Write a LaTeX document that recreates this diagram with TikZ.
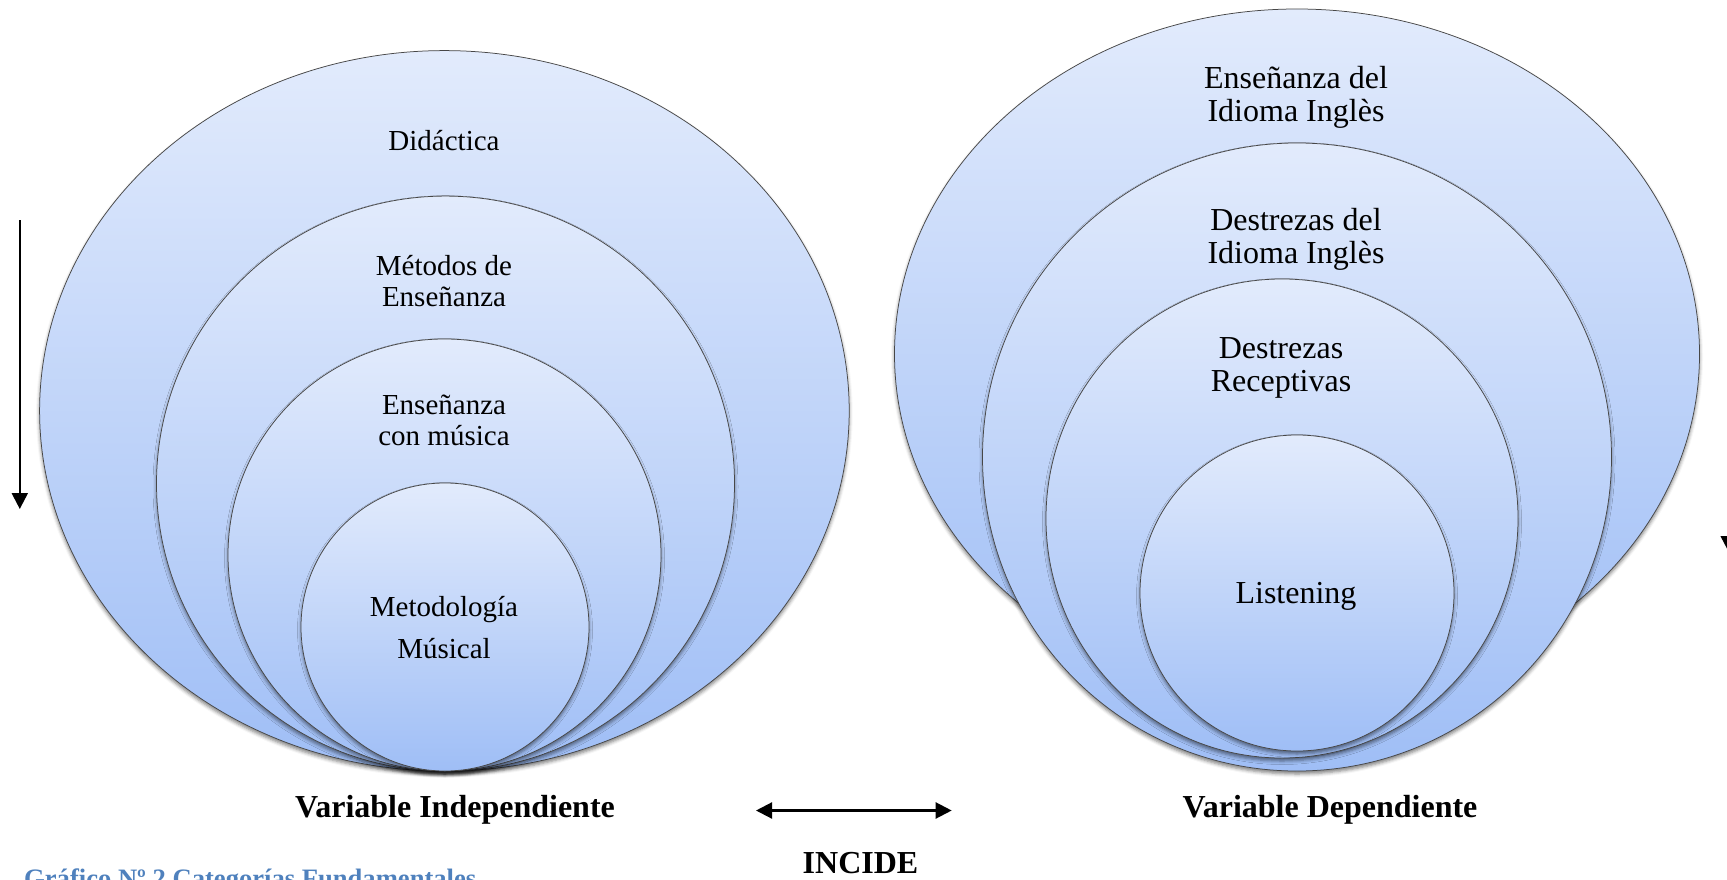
\documentclass[tikz,border=0pt]{standalone}
\usepackage{fontspec}
\setmainfont{Liberation Serif}
\usetikzlibrary{shapes.geometric,shadows.blur,arrows.meta}
\definecolor{topblue}{HTML}{E2EBFC}
\definecolor{botblue}{HTML}{9FBEF6}
\definecolor{capblue}{HTML}{4F81BD}
\begin{document}
\begin{tikzpicture}[x=1pt,y=-1pt,
  bubble/.style={ellipse, draw=black!72, line width=0.75pt, top color=topblue, bottom color=botblue, inner sep=0pt,
    blur shadow={shadow xshift=0pt, shadow yshift=-3pt, shadow blur radius=3.5pt, shadow opacity=50}},
  lbl/.style={align=center, inner sep=0pt, font=\fontsize{29}{31}\selectfont},
  rlbl/.style={align=center, inner sep=0pt, font=\fontsize{32}{33}\selectfont},
  varlbl/.style={inner sep=0pt, font=\bfseries\fontsize{32}{34}\selectfont},
  arr/.style={line width=2.2pt, -{Triangle[length=16pt,width=16pt]}},
  darr/.style={line width=2.2pt, {Triangle[length=16pt,width=16pt]}-{Triangle[length=16pt,width=16pt]}}]
\useasboundingbox (0,0) rectangle (1727,880);
\clip (0,0) rectangle (1727,880);
% left set
\node[bubble, minimum width=809.6pt, minimum height=720.4pt] (L1) at (444.4,410.8) {};
\node[bubble, minimum width=578pt, minimum height=575pt] (L2) at (445.5,483.6) {};
\node[bubble, minimum width=433pt, minimum height=432pt] (L3) at (444.5,555) {};
\node[bubble, minimum width=288pt, minimum height=288pt] (L4) at (445,627) {};
\node[lbl] (tL1) at (444,141) {Didáctica};
\node[lbl] (tL2) at (444,281) {Métodos de\\Enseñanza};
\node[lbl] (tL3) at (444,420) {Enseñanza\\con música};
\node[lbl, font=\fontsize{29}{42}\selectfont] (tL4) at (444,628) {Metodología\\Músical};
% right set
\node[bubble, minimum width=805pt, minimum height=690pt] (R1) at (1297,354) {};
\node[bubble, minimum width=629pt, minimum height=628pt] (R2) at (1297,457) {};
\node[bubble, minimum width=472pt, minimum height=479pt] (R3) at (1282,518.5) {};
\node[bubble, minimum width=314pt, minimum height=316pt] (R4) at (1297,593) {};
\node[rlbl] (tR1) at (1296,97) {Enseñanza del\\Idioma Inglès};
\node[rlbl] (tR2) at (1296,239) {Destrezas del\\Idioma Inglès};
\node[rlbl] (tR3) at (1281,368) {Destrezas\\Receptivas};
\node[rlbl] (tR4) at (1296,596) {Listening};
% labels
\node[varlbl] (vi) at (455,810) {Variable Independiente};
\node[varlbl] (vd) at (1330,810) {Variable Dependiente};
\node[varlbl] (inc) at (860.5,863) {INCIDE};
\node[anchor=base west, inner sep=0pt, text=capblue, font=\bfseries\fontsize{26.6}{28}\selectfont] (cap) at (24,887) {Gráfico Nº 2 Categorías Fundamentales};
% arrows
\coordinate (la1) at (19.8,220);
\coordinate (la2) at (19.8,509);
\draw[arr] (la1) -- (la2);
\coordinate (da1) at (756,810.5);
\coordinate (da2) at (951.7,810.5);
\draw[darr] (da1) -- (da2);
\coordinate (ra1) at (1728.7,290);
\coordinate (ra2) at (1728.7,552);
\draw[arr] (ra1) -- (ra2);
\end{tikzpicture}
\end{document}
